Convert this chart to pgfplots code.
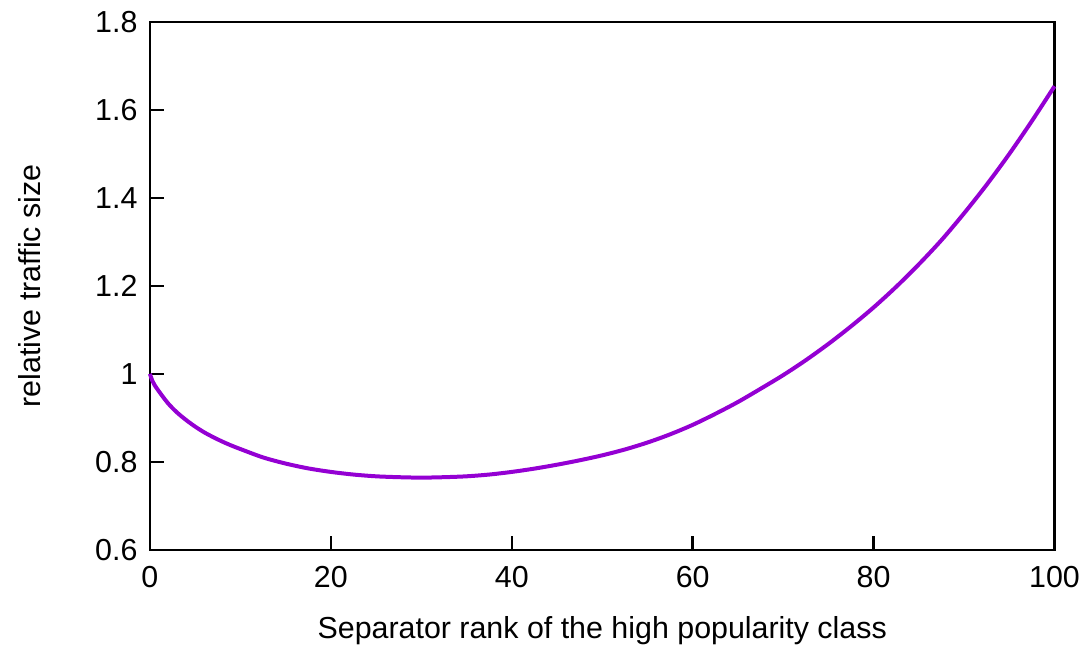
\documentclass[border=0pt]{standalone}
\usepackage{pgfplots}
\pgfplotsset{compat=1.18}
\usepackage{fontspec}
\setmainfont{Liberation Sans}
\definecolor{gpviolet}{HTML}{9400D3}

\begin{document}
\fontsize{15.2}{18}\selectfont
\begin{tikzpicture}
\begin{axis}[
    scale only axis,
    width=452.5pt, height=264pt,
    xmin=0, xmax=100, ymin=0.6, ymax=1.8,
    xtick={0,20,...,100},
    ytick={0.6,0.8,1,1.2,1.4,1.6,1.8},
    yticklabels={0.6,0.8,1,1.2,1.4,1.6,1.8},
    tick pos=left,
    tick align=inside,
    major tick length=7pt,
    axis line style={line width=1.2pt},
    every tick/.style={black, line width=1.2pt},
    /pgf/number format/assume math mode=true,
    ticklabel style={font=\fontsize{15.2}{18}\selectfont},
    xticklabel style={yshift=-3pt},
    yticklabel style={xshift=-1pt},
    label style={font=\fontsize{15.2}{18}\selectfont},
    xlabel={Separator rank of the high popularity class},
    ylabel={relative traffic size},
    every axis x label/.style={at={(axis description cs:0.5,0)}, anchor=center, yshift=-40.5pt},
    every axis y label/.style={at={(axis description cs:0,0.5)}, rotate=90, anchor=center, yshift=60pt},
    clip=false,
]
% relative traffic vs separator rank
\addplot[color=gpviolet, line width=2pt, smooth] coordinates {
  (0,1.000) (0.25,0.985) (0.5,0.975) (1,0.960) (2,0.933) (3,0.912) (4,0.895)
  (5,0.880) (6,0.867) (7,0.856) (8,0.846) (9,0.837) (10,0.829)
  (12.5,0.810) (15,0.796) (17.5,0.785) (20,0.777) (22.5,0.771) (25,0.767)
  (27.5,0.765) (30,0.764) (32.5,0.765) (35,0.767) (37.5,0.771) (40,0.777)
  (42.5,0.7845) (45,0.7934) (47.5,0.8034) (50,0.8147) (52.5,0.828)
  (55,0.8438) (57.5,0.8624) (60,0.884) (62.5,0.909) (65,0.936) (67.5,0.966)
  (70,0.997) (72.5,1.031) (75,1.068) (77.5,1.108) (80,1.151) (82.5,1.198)
  (85,1.249) (87.5,1.304) (90,1.365) (92.5,1.430) (95,1.500) (97.5,1.575)
  (100,1.654) };
% page margins as in the reference
\path (rel axis cs:0,0) ++(-75pt,-48pt);
\path (rel axis cs:1,1) ++(17.5pt,11pt);
\end{axis}
\end{tikzpicture}
\end{document}
